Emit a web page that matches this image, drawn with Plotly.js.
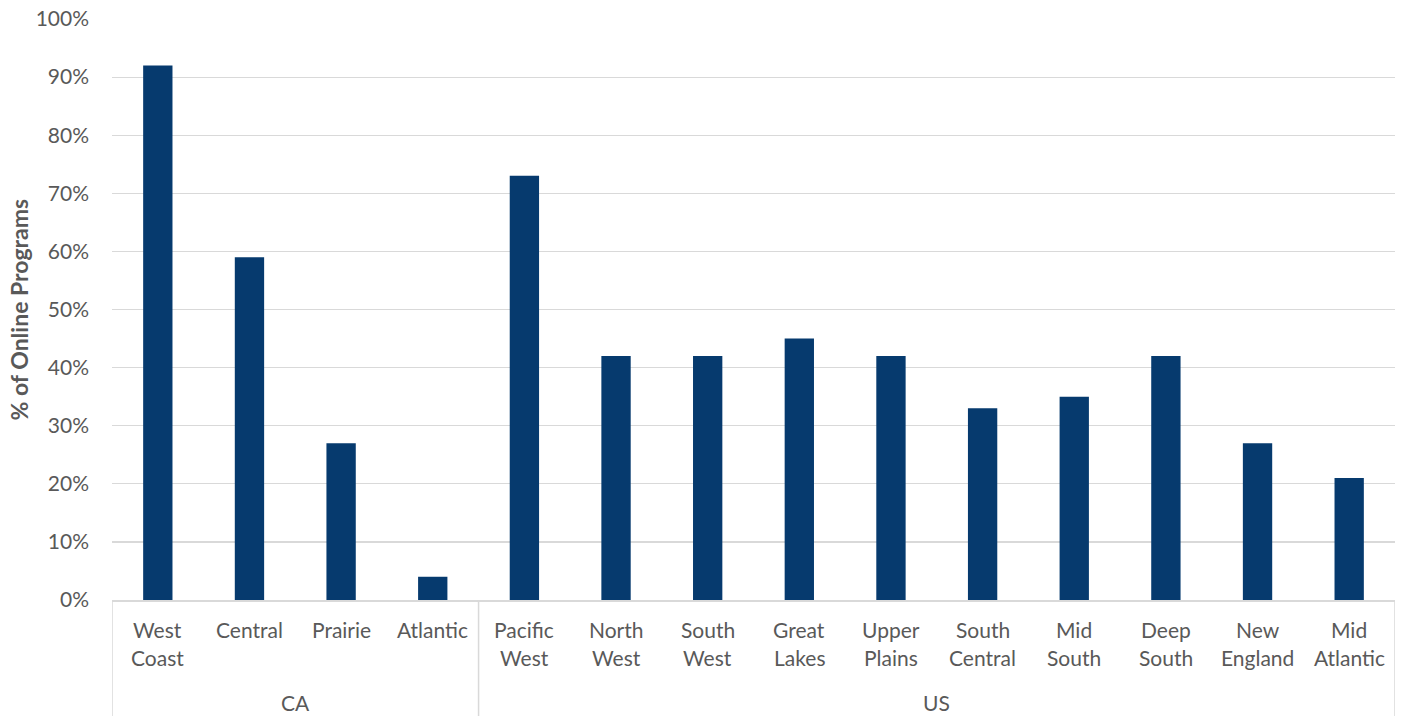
<!DOCTYPE html>
<html><head><meta charset="utf-8">
<script src="https://cdn.plot.ly/plotly-3.0.1.min.js"></script>
<style>html,body{margin:0;padding:0;background:#fff}#chart{width:1405px;height:716px}</style>
</head><body><div id="chart"></div>
<script>
const groups = ["CA","CA","CA","CA","US","US","US","US","US","US","US","US","US","US"];
const regions = ["West Coast","Central","Prairie","Atlantic","Pacific West","North West","South West","Great Lakes","Upper Plains","South Central","Mid South","Deep South","New England","Mid Atlantic"];
const values = [0.92,0.59,0.27,0.04,0.73,0.42,0.42,0.45,0.42,0.33,0.35,0.42,0.27,0.21];
const yTicks = [0,0.1,0.2,0.3,0.4,0.5,0.6,0.7,0.8,0.9,1.0];

const FONT = "Lato, 'Open Sans', sans-serif";
const GRAY = "#595959";
const LINE = "#d9d9d9";

const trace = {
  type: "bar",
  x: regions,
  y: values,
  marker: {color: "#063a6e"},
  width: 0.32,
  hoverinfo: "skip"
};

// category labels (two lines each, as in the reference)
const annotations = [];
regions.forEach((r, i) => {
  const parts = r.split(" ");
  parts.forEach((p, k) => {
    annotations.push({
      x: i, xref: "x", y: k === 0 ? -0.0516 : -0.0998, yref: "paper",
      text: p, showarrow: false, xanchor: "center", yanchor: "middle",
      font: {family: FONT, size: 21, color: GRAY}
    });
  });
});
// group labels + dividers
const groupNames = [...new Set(groups)];
const shapes = [];
groupNames.forEach(g => {
  const first = groups.indexOf(g);
  const last = groups.lastIndexOf(g);
  annotations.push({
    x: (first + last) / 2, xref: "x", y: -0.177, yref: "paper",
    text: g, showarrow: false, xanchor: "center", yanchor: "middle",
    font: {family: FONT, size: 21, color: GRAY}
  });
  shapes.push({type: "line", xref: "x", yref: "paper", x0: first - 0.5, x1: first - 0.5, y0: 0, y1: -0.3,
    line: {color: LINE, width: 1.5}});
});
shapes.push({type: "line", xref: "x", yref: "paper", x0: groups.length - 0.5, x1: groups.length - 0.5, y0: 0, y1: -0.3,
  line: {color: LINE, width: 1.5}});
// y-axis title
annotations.push({
  x: 18, xref: "paper", xanchor: "center", y: 0.5, yref: "paper", yanchor: "middle",
  text: "<b>% of Online Programs</b>", textangle: -90, showarrow: false,
  font: {family: FONT, size: 23, color: GRAY}
});
annotations[annotations.length - 1].x = (18 - 112) / 1283;

const layout = {
  width: 1405, height: 716,
  margin: {l: 112, r: 10, t: 19, b: 116},
  paper_bgcolor: "#fff", plot_bgcolor: "#fff",
  font: {family: FONT, size: 21, color: GRAY},
  showlegend: false,
  xaxis: {
    type: "category",
    range: [-0.5, regions.length - 0.5],
    showline: true, linecolor: LINE, linewidth: 1.5,
    showgrid: false, ticks: "", showticklabels: false
  },
  yaxis: {
    range: [0, 1.0],
    tickvals: yTicks,
    tickformat: ".0%",
    showgrid: true, gridcolor: LINE, gridwidth: 1.2,
    zeroline: false, showline: false,
    ticks: "", ticklabelstandoff: 22,
    tickfont: {family: FONT, size: 21, color: GRAY}
  },
  annotations: annotations,
  shapes: shapes
};
Plotly.newPlot("chart", [trace], layout, {displayModeBar: false, staticPlot: true});
</script>
</body></html>
